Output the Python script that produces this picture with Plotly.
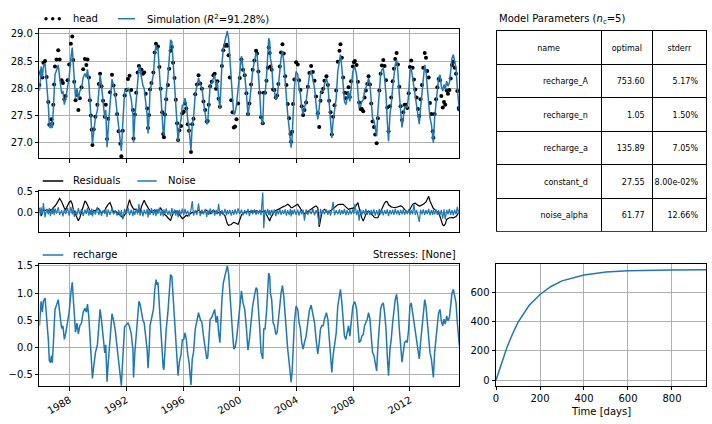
import pandas as pd
import plotly.graph_objects as go

# ---------------- data ----------------
t_year = [
    1985.87, 1985.93, 1985.99, 1986.08, 1986.15, 1986.27, 1986.38, 1986.50, 1986.57, 1986.65,
    1986.72, 1986.78, 1986.85, 1986.91, 1986.97, 1987.08, 1987.20, 1987.30, 1987.44, 1987.53,
    1987.63, 1987.72, 1987.86, 1987.97, 1988.09, 1988.19, 1988.26, 1988.33, 1988.42, 1988.52,
    1988.62, 1988.72, 1988.84, 1988.96, 1989.08, 1989.18, 1989.26, 1989.36, 1989.43, 1989.50,
    1989.56, 1989.61, 1989.70, 1989.82, 1989.96, 1990.06, 1990.15, 1990.25, 1990.36, 1990.48,
    1990.55, 1990.64, 1990.72, 1990.85, 1990.99, 1991.10, 1991.23, 1991.35, 1991.46, 1991.58,
    1991.65, 1991.75, 1991.88, 1992.00, 1992.12, 1992.23, 1992.35, 1992.47, 1992.51, 1992.60,
    1992.70, 1992.80, 1992.89, 1992.97, 1993.07, 1993.17, 1993.26, 1993.37, 1993.47, 1993.53,
    1993.60, 1993.67, 1993.77, 1993.91, 1994.00, 1994.09, 1994.16, 1994.23, 1994.33, 1994.42,
    1994.53, 1994.60, 1994.65, 1994.72, 1994.81, 1994.93, 1995.02, 1995.12, 1995.21, 1995.30,
    1995.40, 1995.49, 1995.58, 1995.65, 1995.74, 1995.86, 1995.95, 1996.05, 1996.14, 1996.23,
    1996.33, 1996.42, 1996.56, 1996.65, 1996.74, 1996.86, 1996.98, 1997.09, 1997.21, 1997.33,
    1997.44, 1997.56, 1997.67, 1997.74, 1997.81, 1997.91, 1998.02, 1998.14, 1998.23, 1998.33,
    1998.42, 1998.51, 1998.60, 1998.74, 1998.84, 1998.95, 1999.07, 1999.12, 1999.21, 1999.30,
    1999.40, 1999.49, 1999.58, 1999.67, 1999.77, 1999.88, 2000.00, 2000.12, 2000.23, 2000.35,
    2000.47, 2000.58, 2000.68, 2000.80, 2000.91, 2001.03, 2001.15, 2001.22, 2001.31, 2001.41,
    2001.50, 2001.62, 2001.69, 2001.78, 2001.88, 2001.97, 2002.04, 2002.11, 2002.16, 2002.25,
    2002.35, 2002.44, 2002.54, 2002.63, 2002.72, 2002.82, 2002.91, 2003.01, 2003.10, 2003.20,
    2003.29, 2003.38, 2003.48, 2003.57, 2003.62, 2003.69, 2003.76, 2003.85, 2003.97, 2004.09,
    2004.18, 2004.28, 2004.37, 2004.47, 2004.56, 2004.68, 2004.80, 2004.91, 2005.03, 2005.15,
    2005.27, 2005.38, 2005.50, 2005.60, 2005.69, 2005.78, 2005.88, 2005.97, 2006.11, 2006.21,
    2006.30, 2006.40, 2006.49, 2006.58, 2006.68, 2006.80, 2006.91, 2007.03, 2007.10, 2007.20,
    2007.29, 2007.38, 2007.48, 2007.57, 2007.67, 2007.76, 2007.85, 2007.97, 2008.05, 2008.12,
    2008.24, 2008.33, 2008.42, 2008.52, 2008.61, 2008.71, 2008.80, 2008.89, 2008.99, 2009.08,
    2009.18, 2009.27, 2009.36, 2009.46, 2009.55, 2009.65, 2009.74, 2009.84, 2009.93, 2010.02,
    2010.12, 2010.21, 2010.31, 2010.40, 2010.49, 2010.59, 2010.68, 2010.78, 2010.87, 2010.96,
    2011.06, 2011.15, 2011.25, 2011.34, 2011.44, 2011.53, 2011.62, 2011.72, 2011.81, 2011.91,
    2012.00, 2012.09, 2012.19, 2012.28, 2012.38, 2012.47, 2012.56, 2012.66, 2012.75, 2012.85,
    2012.94, 2013.04, 2013.13, 2013.22, 2013.32, 2013.41, 2013.51, 2013.60, 2013.65, 2013.74,
    2013.84, 2013.93, 2014.02, 2014.12, 2014.21, 2014.31, 2014.40, 2014.49, 2014.59, 2014.68,
    2014.78, 2014.87, 2014.96, 2015.06, 2015.15, 2015.25, 2015.34, 2015.44, 2015.48,
]

recharge = [
    0.40, 0.70, 0.85, 0.65, 0.85, 0.91, 0.60, 0.15, -0.24, -0.28,
    -0.15, -0.28, 0.05, 0.40, 0.70, 0.78, 0.88, 0.65, 0.35, 0.40,
    0.15, 0.25, 0.45, 0.65, 1.00, 1.20, 0.90, 0.55, 0.28, 0.45,
    0.25, 0.40, 0.45, 0.65, 0.72, 0.65, 0.80, 0.55, 0.20, -0.05,
    -0.35, -0.57, -0.35, -0.10, 0.05, 0.45, 0.70, 0.50, 0.20, -0.10,
    0.05, -0.63, -0.30, 0.15, 0.62, 0.50, 0.30, 0.00, -0.30, -0.50,
    -0.70, -0.20, 0.38, 0.42, 0.45, 0.38, 0.25, -0.05, -0.55, -0.10,
    0.30, 0.70, 0.85, 0.80, 0.65, 0.50, 0.45, 0.15, -0.05, -0.38,
    -0.10, 0.40, 0.55, 0.70, 1.05, 1.25, 1.15, 1.20, 0.76, 0.34,
    -0.03, -0.37, -0.41, 0.03, 0.33, 0.64, 0.98, 1.34, 1.31, 0.95,
    0.64, 0.21, -0.21, -0.52, -0.27, -0.12, 0.14, 0.15, 0.27, 0.15,
    -0.12, -0.27, -0.69, -0.21, -0.09, 0.34, 0.49, 0.64, 0.52, 0.46,
    0.21, 0.03, -0.21, -0.18, 0.15, 0.52, 0.55, 0.64, 0.70, 0.46,
    0.58, 0.27, 0.09, 0.88, 1.19, 1.31, 1.46, 1.50, 1.37, 0.95,
    0.52, 0.27, -0.03, 0.00, 0.15, 0.46, 0.82, 1.04, 0.82, 0.70,
    0.35, -0.05, 0.15, 0.52, 0.76, 0.95, 1.10, 1.07, 0.76, 0.34,
    -0.09, -0.21, 0.34, 0.34, 0.64, 0.95, 1.37, 1.31, 1.00, 0.88,
    0.46, 0.40, 0.24, 0.27, 0.46, 0.76, 1.00, 1.14, 0.95, 0.52,
    0.34, -0.03, -0.27, -0.52, -0.64, -0.46, 0.03, 0.46, 0.76, 0.70,
    0.46, 0.34, 0.09, -0.03, 0.09, 0.21, 0.46, 0.68, 0.78, 0.64,
    0.46, 0.15, -0.12, 0.09, 0.34, 0.40, 0.40, 0.52, 0.64, 0.52,
    0.21, -0.03, -0.46, -0.15, 0.03, 0.27, 0.76, 0.95, 1.07, 0.82,
    0.46, 0.21, 0.15, 0.27, 0.40, 0.21, 0.49, 0.75, 0.82, 0.84,
    0.70, 0.34, 0.09, 0.12, 0.21, 0.24, 0.40, 0.46, 0.52, 0.64,
    0.52, 0.21, -0.09, -0.15, -0.27, -0.43, 0.03, 0.46, 0.70, 0.79,
    0.82, 0.64, 0.34, -0.15, -0.52, -0.03, 0.15, 0.46, 0.70, 0.88,
    0.98, 0.76, 0.34, -0.03, -0.27, -0.09, 0.09, 0.12, 0.09, 0.34,
    0.76, 0.82, 0.64, 0.40, 0.21, 0.09, -0.09, -0.21, 0.09, 0.34,
    0.64, 0.88, 0.76, 0.46, 0.27, -0.09, -0.21, -0.46, -0.55, -0.09,
    0.21, 0.46, 0.64, 0.70, 0.49, 0.40, 0.52, 0.43, 0.58, 0.49,
    0.55, 0.76, 1.00, 1.07, 0.95, 0.82, 0.46, 0.09, 0.04,
]

residuals = [
    0.11, 0.02, -0.09, 0.00, 0.07, 0.04, 0.06, 0.05, 0.02, 0.06,
    0.03, 0.08, 0.10, 0.12, 0.15, 0.20, 0.27, 0.33, 0.25, 0.15,
    0.10, 0.06, 0.15, 0.24, 0.27, 0.20, 0.07, 0.02, -0.05, -0.12,
    -0.20, -0.13, 0.02, 0.15, 0.27, 0.23, 0.18, 0.10, 0.03, 0.00,
    0.04, -0.02, 0.05, 0.03, 0.10, 0.08, 0.02, -0.01, 0.02, 0.03,
    0.10, 0.15, 0.19, 0.23, 0.08, 0.00, 0.03, -0.02, -0.04, -0.07,
    -0.10, -0.13, -0.06, 0.00, 0.17, 0.30, 0.17, 0.10, 0.08, 0.07,
    0.07, 0.04, 0.01, 0.00, 0.14, 0.22, 0.29, 0.20, 0.13, 0.10,
    0.06, 0.03, 0.00, 0.04, 0.06, 0.02, 0.05, 0.02, 0.08, 0.10,
    0.04, -0.02, -0.04, -0.06, -0.08, -0.13, -0.17, -0.20, -0.10, -0.03,
    0.00, 0.03, 0.02, 0.02, -0.05, -0.12, -0.15, -0.13, -0.10, -0.07,
    -0.09, -0.06, -0.03, 0.00, -0.02, 0.00, 0.03, 0.05, 0.02, -0.02,
    0.00, 0.02, 0.05, 0.03, 0.00, -0.03, 0.02, 0.05, 0.02, -0.02,
    0.00, -0.01, 0.02, -0.02, -0.04, -0.08, -0.21, -0.27, -0.31, -0.30,
    -0.29, -0.26, -0.24, -0.25, -0.27, -0.29, -0.18, -0.06, -0.03, -0.01,
    0.01, 0.03, 0.02, 0.00, 0.03, 0.01, 0.04, 0.02, 0.00, 0.03,
    0.01, 0.02, 0.03, 0.03, -0.05, -0.12, -0.17, -0.21, -0.15, -0.09,
    -0.03, 0.02, 0.04, 0.05, 0.07, 0.09, 0.11, 0.12, 0.14, 0.15,
    0.17, 0.19, 0.17, 0.13, 0.11, 0.11, 0.13, 0.15, 0.17, 0.19,
    0.14, 0.08, 0.03, -0.01, -0.04, -0.02, 0.02, 0.05, 0.08, 0.11,
    0.13, 0.15, 0.11, -0.35, -0.12, -0.02, 0.04, 0.07, 0.03, -0.01,
    0.01, 0.04, 0.06, 0.08, 0.11, 0.14, 0.18, 0.19, 0.19, 0.19,
    0.19, 0.16, 0.12, 0.09, 0.07, 0.08, 0.09, 0.10, 0.11, 0.11,
    0.18, 0.23, 0.10, -0.05, -0.14, -0.21, -0.12, -0.05, 0.01, 0.03,
    0.00, -0.04, -0.07, -0.11, -0.13, -0.13, -0.13, -0.05, 0.02, 0.08,
    0.15, 0.22, 0.26, 0.25, 0.18, 0.15, 0.13, 0.12, 0.11, 0.11,
    0.12, 0.13, 0.14, 0.15, 0.14, 0.10, 0.06, 0.03, 0.00, 0.02,
    0.08, 0.14, 0.19, 0.21, 0.22, 0.19, 0.16, 0.15, 0.16, 0.17,
    0.19, 0.22, 0.25, 0.31, 0.38, 0.27, 0.19, 0.12, 0.09, 0.07,
    0.04, 0.01, -0.02, -0.10, -0.18, -0.30, -0.32, -0.28, -0.17, -0.14,
    -0.13, -0.13, -0.12, -0.13, -0.12, -0.10, -0.06, 0.00, 0.02,
]

noise = [
    0.05, -0.08, 0.12, -0.06, 0.22, -0.12, 0.08, -0.05, 0.10, -0.09,
    0.06, -0.04, 0.11, -0.07, 0.09, -0.03, 0.12, -0.06, 0.05, -0.10,
    0.07, -0.04, 0.10, -0.08, 0.13, -0.05, 0.09, -0.11, 0.04, -0.07,
    0.10, -0.05, 0.08, -0.09, 0.06, -0.04, 0.11, -0.08, 0.05, -0.06,
    0.09, -0.10, 0.04, -0.05, 0.12, -0.07, 0.06, -0.09, 0.05, -0.04,
    0.08, -0.11, 0.07, -0.06, 0.10, -0.05, 0.04, -0.08, 0.06, -0.10,
    0.05, -0.17, 0.08, -0.04, 0.11, -0.07, 0.06, -0.09, 0.05, -0.06,
    0.09, -0.05, 0.20, -0.08, 0.07, -0.10, 0.06, -0.05, 0.08, -0.12,
    0.05, -0.06, 0.10, -0.07, 0.06, -0.09, 0.08, -0.04, 0.11, -0.08,
    0.05, -0.10, 0.07, -0.05, 0.09, -0.06, 0.04, -0.09, 0.10, -0.05,
    0.07, -0.08, 0.05, -0.12, 0.06, -0.05, 0.09, -0.07, 0.08, -0.05,
    0.04, -0.10, 0.06, 0.27, -0.08, 0.05, -0.06, 0.21, -0.09, 0.06,
    -0.05, 0.08, -0.11, 0.05, -0.06, 0.09, -0.04, 0.07, -0.08, 0.06,
    -0.05, 0.20, -0.09, 0.05, -0.06, 0.08, -0.07, 0.05, -0.04, 0.06,
    -0.08, 0.05, -0.06, 0.07, -0.05, 0.09, -0.04, 0.06, -0.07, 0.05,
    -0.05, 0.08, -0.09, 0.06, -0.05, 0.07, -0.06, 0.05, -0.04, 0.06,
    -0.07, 0.47, -0.38, 0.06, -0.05, 0.08, -0.06, 0.05, -0.08, 0.06,
    -0.04, 0.07, -0.09, 0.05, -0.05, 0.08, -0.06, 0.05, -0.04, 0.07,
    -0.08, 0.05, -0.06, 0.08, -0.10, 0.05, -0.05, 0.07, -0.06, 0.06,
    -0.08, 0.05, -0.05, 0.06, -0.20, 0.07, -0.06, 0.05, -0.04, 0.08,
    -0.07, 0.05, -0.06, -0.30, 0.08, -0.05, 0.06, -0.05, 0.07, -0.06,
    0.05, -0.08, 0.06, 0.25, -0.07, 0.05, -0.05, 0.07, -0.06, 0.05,
    -0.04, 0.08, -0.07, 0.05, -0.06, 0.06, -0.05, 0.07, -0.04, 0.20,
    -0.07, 0.06, -0.20, 0.07, -0.06, 0.05, -0.05, 0.08, -0.06, 0.05,
    -0.07, 0.06, -0.05, 0.07, -0.08, 0.05, -0.06, 0.08, -0.05, 0.06,
    -0.07, 0.05, -0.04, 0.07, -0.09, 0.05, -0.05, 0.06, -0.06, 0.08,
    -0.05, 0.05, -0.07, 0.06, -0.05, 0.07, -0.06, 0.05, -0.04, 0.07,
    -0.06, 0.05, -0.05, 0.20, -0.06, 0.05, -0.08, -0.23, 0.06, -0.05,
    0.07, -0.06, 0.05, -0.04, 0.08, -0.07, 0.05, -0.06, 0.06, -0.05,
    0.07, -0.06, 0.05, -0.07, 0.06, -0.15, 0.07, -0.17, 0.06, -0.05,
    0.08, -0.06, 0.05, -0.07, 0.06, -0.05, 0.13, -0.04, 0.05,
]

step_days = [0, 25, 50, 75, 100, 150, 200, 250, 300, 400, 500, 600, 700, 800, 956]
step_resp = [0, 120, 225, 315, 395, 510, 585, 640, 678, 718, 738, 747, 751, 753, 754]

param_names = ["recharge_A", "recharge_n", "recharge_a", "constant_d", "noise_alpha"]
param_optimal = [753.60, 1.05, 135.89, 27.55, 61.77]
param_stderr = ["5.17%", "1.50%", "7.05%", "8.00e-02%", "12.66%"]
table_header = ["name", "optimal", "stderr"]

year_ticks = [1988, 1992, 1996, 2000, 2004, 2008, 2012]

assert len(t_year) == len(recharge) == len(residuals) == len(noise)

# ---------------- derived series ----------------
def to_date(y):
    yr = int(y)
    return pd.Timestamp(yr, 1, 1) + pd.Timedelta(days=(y - yr) * 365.25)

dates = [to_date(y) for y in t_year]
const_d = param_optimal[3]
simulation = [const_d + r for r in recharge]
head = [const_d + r + e for r, e in zip(recharge, residuals)]

BLUE = "#1f77b4"
FONT = "DejaVu Sans"
W, H = 712, 424

def px(x):
    return x / W

def py(y):
    return 1 - y / H

fig = go.Figure()

fig.add_trace(go.Scatter(x=dates, y=head, mode="markers", name="head",
                         marker=dict(color="black", size=4), xaxis="x", yaxis="y",
                         showlegend=False))
fig.add_trace(go.Scatter(x=dates, y=simulation, mode="lines", name="Simulation",
                         line=dict(color=BLUE, width=1.5), xaxis="x", yaxis="y",
                         showlegend=False))
fig.add_trace(go.Scatter(x=dates, y=residuals, mode="lines", name="Residuals",
                         line=dict(color="black", width=1.2), xaxis="x2", yaxis="y2",
                         showlegend=False))
fig.add_trace(go.Scatter(x=dates, y=noise, mode="lines", name="Noise",
                         line=dict(color=BLUE, width=1.2), xaxis="x2", yaxis="y2",
                         showlegend=False))
fig.add_trace(go.Scatter(x=dates, y=recharge, mode="lines", name="recharge",
                         line=dict(color=BLUE, width=1.5), xaxis="x3", yaxis="y3",
                         showlegend=False))
fig.add_trace(go.Scatter(x=step_days, y=step_resp, mode="lines", name="step",
                         line=dict(color=BLUE, width=1.5), xaxis="x4", yaxis="y4",
                         showlegend=False))

# table: one trace draws the cell grid, a second (transparent grid) carries the
# text a few pixels lower so that it sits vertically centred in each cell
col_w = [105, 51.7, 53.3]
cell_font = dict(family=FONT, size=8, color="black")
n_rows = len(param_names)
fig.add_trace(go.Table(
    domain=dict(x=[px(496), px(706)], y=[py(232), py(30.7)]),
    columnwidth=col_w,
    header=dict(values=[""] * 3, line=dict(color="black", width=1),
                fill=dict(color="white"), font=cell_font, height=33.5),
    cells=dict(values=[[""] * n_rows] * 3, line=dict(color="black", width=1),
               fill=dict(color="white"), font=cell_font, height=33.5),
))
CLEAR = "rgba(0,0,0,0)"
fig.add_trace(go.Table(
    domain=dict(x=[px(496), px(706)], y=[py(238), py(36.5)]),
    columnwidth=col_w,
    header=dict(values=table_header, align="center",
                line=dict(color=CLEAR, width=0), fill=dict(color=CLEAR),
                font=cell_font, height=33.5),
    cells=dict(values=[[n + "  " for n in param_names],
                       [f"{v:.2f}" for v in param_optimal],
                       param_stderr],
               align="right",
               line=dict(color=CLEAR, width=0), fill=dict(color=CLEAR),
               font=cell_font, height=33.5),
))

axis_common = dict(showline=True, linecolor="black", linewidth=1, mirror=True,
                   ticks="outside", ticklen=3.5, tickwidth=0.8, tickcolor="black",
                   showgrid=True, gridcolor="#b0b0b0", gridwidth=0.8, zeroline=False,
                   tickfont=dict(family=FONT, size=10, color="black"), automargin=False)

xdom = [px(39.4), px(459.3)]
xrange = [dates[0], dates[-1]]
tickvals = [pd.Timestamp(y, 1, 1) for y in year_ticks]
ticktext = [str(y) for y in year_ticks]

fig.update_layout(
    width=W, height=H, margin=dict(l=0, r=0, t=0, b=0),
    template="none", paper_bgcolor="white", plot_bgcolor="white",
    showlegend=False,
    font=dict(family=FONT, size=10, color="black"),
    xaxis=dict(axis_common, domain=xdom, anchor="y", type="date", range=xrange,
               tickvals=tickvals, ticktext=ticktext, showticklabels=False),
    yaxis=dict(axis_common, domain=[py(158), py(29)], anchor="x", range=[26.72, 29.09],
               tickvals=[27.0, 27.5, 28.0, 28.5, 29.0], tickformat=".1f"),
    xaxis2=dict(axis_common, domain=xdom, anchor="y2", type="date", range=xrange,
                tickvals=tickvals, ticktext=ticktext, showticklabels=False, matches="x"),
    yaxis2=dict(axis_common, domain=[py(232), py(190.7)], anchor="x2", range=[-0.47, 0.515],
                tickvals=[0.0, 0.5], tickformat=".1f"),
    xaxis3=dict(axis_common, domain=xdom, anchor="y3", type="date", range=xrange,
                tickvals=tickvals, ticktext=ticktext, tickangle=-30, matches="x"),
    yaxis3=dict(axis_common, domain=[py(386), py(264.3)], anchor="x3", range=[-0.708, 1.53],
                tickvals=[-0.5, 0.0, 0.5, 1.0, 1.5], tickformat=".1f"),
    xaxis4=dict(axis_common, domain=[px(496), px(706.3)], anchor="y4", range=[0, 956],
                tickvals=[0, 200, 400, 600, 800]),
    yaxis4=dict(axis_common, domain=[py(385.7), py(264.3)], anchor="x4", range=[-37.7, 791.3],
                tickvals=[0, 200, 400, 600]),
)

# ---------------- legends / titles (matplotlib-style) ----------------
shapes = []
annotations = []

def text(x, y, s, anchor="left", size=10):
    annotations.append(dict(x=px(x), y=py(y), xref="paper", yref="paper", text=s,
                            showarrow=False, xanchor=anchor, yanchor="middle",
                            font=dict(family=FONT, size=size, color="black")))

def hline(x0, x1, y, color, width=1.5):
    shapes.append(dict(type="line", xref="paper", yref="paper", x0=px(x0), x1=px(x1),
                       y0=py(y), y1=py(y), line=dict(color=color, width=width)))

for cx in (46, 52.7, 59.3):
    shapes.append(dict(type="circle", xref="paper", yref="paper",
                       xsizemode="pixel", ysizemode="pixel",
                       xanchor=px(cx), yanchor=py(18.7),
                       x0=-1.7, x1=1.7, y0=-1.7, y1=1.7,
                       fillcolor="black", line=dict(width=0)))
text(70.5, 18.7, "head")
hline(118, 135, 18.7, BLUE)
text(144.5, 18.7, "Simulation (<i>R</i><sup>2</sup>=91.28%)")

hline(42.7, 63.3, 181, "black")
text(70.5, 181, "Residuals")
hline(137.3, 156.7, 181, BLUE)
text(166, 181, "Noise")

hline(42.7, 63.3, 255, BLUE)
text(70.5, 255, "recharge")
text(458, 255, "Stresses: [None]", anchor="right")

text(497, 20, "Model Parameters (<i>n</i><sub>c</sub>=5)")
text(601, 411, "Time [days]", anchor="center")

fig.update_layout(shapes=shapes, annotations=annotations)

fig.write_html("out.html")
